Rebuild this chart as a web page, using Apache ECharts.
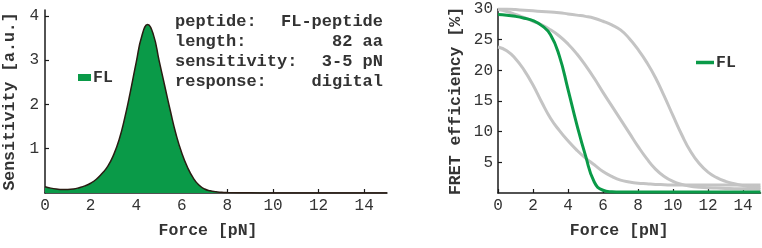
<!DOCTYPE html>
<html><head><meta charset="utf-8">
<script src="https://cdn.jsdelivr.net/npm/echarts@6/dist/echarts.min.js"></script>
<style>html,body{margin:0;padding:0;background:#fff}#c{width:762px;height:248px}</style>
</head><body><div id="c"></div><script>
// ---- Left panel: sensitivity ----
const sensX = [0,0.25,0.5,0.75,1,1.25,1.5,1.75,2,2.25,2.5,2.75,3,3.25,3.5,3.75,4,4.25,4.5,4.75,5,5.25,5.5,5.75,6,6.25,6.5,6.75,7,7.25,7.5,7.75,8,9,10,11,12,13,14,15];
const sensY = [0.14,0.11,0.09,0.08,0.08,0.09,0.12,0.16,0.22,0.31,0.44,0.6,0.85,1.2,1.7,2.3,2.95,3.55,3.8,3.58,3.0,2.42,1.85,1.32,0.9,0.58,0.34,0.18,0.09,0.05,0.03,0.015,0.01,0.005,0,0,0,0,0,0];
const sensXTicks = [0,2,4,6,8,10,12,14];
const sensYTicks = [1,2,3,4];
const infoLabels = ['peptide:', 'length:', 'sensitivity:', 'response:'];
const infoValues = ['FL-peptide', '82 aa', '3-5 pN', 'digital'];

// ---- Right panel: FRET efficiency (shared force grid) ----
const fretX = [0,0.5,1,1.5,2,2.5,3,3.5,4,4.5,5,5.5,6,6.5,7,7.5,8,8.5,9,9.5,10,10.5,11,11.5,12,12.5,13,13.5,14,14.5,15];
const flY    = [29.1,29.0,28.8,28.5,28.1,27.3,25.8,22.4,16.9,11.2,6.1,1.8,0.45,0.2,0.15,0.15,0.15,0.15,0.15,0.15,0.15,0.15,0.15,0.15,0.15,0.15,0.15,0.15,0.15,0.15,0.15];
const grayAY = [23.8,23.2,21.9,20.0,17.6,14.8,12.2,10.2,8.5,7.0,5.7,4.6,3.5,2.7,2.1,1.8,1.6,1.5,1.4,1.35,1.3,1.3,1.3,1.3,1.3,1.3,1.3,1.3,1.3,1.3,1.3];
const grayBY = [29.9,29.6,29.1,28.6,28.0,27.4,26.6,25.6,24.3,22.7,20.8,18.7,16.4,14.2,12.0,9.8,7.6,5.6,3.9,2.7,1.9,1.4,1.1,0.95,0.85,0.8,0.75,0.7,0.68,0.65,0.62];
const grayCY = [30.0,30.0,29.9,29.8,29.7,29.6,29.5,29.4,29.2,29.0,28.8,28.5,28.0,27.4,26.6,25.2,23.4,21.3,18.8,15.8,12.6,9.5,6.8,4.8,3.4,2.5,1.9,1.5,1.2,1.0,0.9];
const fretXTicks = [0,2,4,6,8,10,12,14];
const fretYTicks = [5,10,15,20,25,30];

const pairs = (xs, ys) => xs.map((x, i) => [x, ys[i]]);
const FONT = 'Liberation Mono';
const GREEN = '#0a9a48';
const GRAY = '#c4c4c4';
const AX = '#1a1a1a';
const TXT = '#333';

function xAxisCfg(gridIndex, ticks, nameGap, namePad) {
  return {
    type: 'value', gridIndex, min: 0, max: 15,
    name: 'Force [pN]', nameLocation: 'middle', nameGap,
    nameTextStyle: { fontFamily: FONT, fontWeight: 'bold', fontSize: 16.5, color: TXT, padding: namePad },
    axisLine: { show: true, onZero: false, lineStyle: { color: AX, width: 1.5 } },
    axisTick: { show: true, inside: true, length: 4, customValues: ticks, lineStyle: { color: AX, width: 1.2 } },
    axisLabel: { customValues: ticks, margin: 5, fontFamily: FONT, fontSize: 16, color: TXT },
    splitLine: { show: false }
  };
}
function yAxisCfg(gridIndex, max, ticks, name, nameGap, margin) {
  return {
    type: 'value', gridIndex, min: 0, max,
    name, nameLocation: 'middle', nameGap, nameRotate: 90,
    nameTextStyle: { fontFamily: FONT, fontWeight: 'bold', fontSize: 16.5, color: TXT },
    axisLine: { show: true, onZero: false, lineStyle: { color: AX, width: 1.5 } },
    axisTick: { show: true, inside: true, length: 4, customValues: ticks, lineStyle: { color: AX, width: 1.2 } },
    axisLabel: { customValues: ticks, margin, fontFamily: FONT, fontSize: 16, color: TXT },
    splitLine: { show: false }
  };
}

const graphics = [];
infoLabels.forEach((t, i) => {
  graphics.push({ type: 'text', left: 175, top: 13 + i * 20.2,
    style: { text: t, font: 'bold 17px "' + FONT + '"', fill: TXT } });
  graphics.push({ type: 'text', right: 762 - 383, top: 13 + i * 20.2,
    style: { text: infoValues[i], font: 'bold 17px "' + FONT + '"', fill: TXT, textAlign: 'right' } });
});

const lineBase = { type: 'line', smooth: 0.5, showSymbol: false, symbol: 'none' };

const chart = echarts.init(document.getElementById('c'), null, { renderer: 'canvas' });
chart.setOption({
  animation: false,
  backgroundColor: '#fff',
  grid: [
    { left: 43, top: 10, width: 344, height: 183 },
    { left: 498, top: 9, width: 262.5, height: 184 }
  ],
  xAxis: [ xAxisCfg(0, sensXTicks, 29, [0, 16, 0, 0]), xAxisCfg(1, fretXTicks, 29, [0, 20, 0, 0]) ],
  yAxis: [
    yAxisCfg(0, 4.13, sensYTicks, 'Sensitivity [a.u.]', 27, 6),
    yAxisCfg(1, 30, fretYTicks, 'FRET efficiency [%]', 34, 5)
  ],
  legend: [
    { left: 73, top: 64, icon: 'rect', itemWidth: 13, itemHeight: 7, itemGap: 4, data: ['FL'],
      selectedMode: false,
      itemStyle: { color: GREEN, borderWidth: 0 },
      textStyle: { fontFamily: FONT, fontWeight: 'bold', fontSize: 16.5, color: TXT, padding: [0, 0, 0, -3] } },
    { left: 691, top: 49, icon: 'rect', itemWidth: 18, itemHeight: 3.5, itemGap: 4, data: ['FL (FRET)'],
      selectedMode: false, formatter: () => 'FL',
      itemStyle: { color: GREEN, borderWidth: 0 },
      textStyle: { fontFamily: FONT, fontWeight: 'bold', fontSize: 16.5, color: TXT, padding: [0, 0, 0, -3] } }
  ],
  graphic: graphics,
  series: [
    Object.assign({}, lineBase, { name: 'FL', xAxisIndex: 0, yAxisIndex: 0, data: pairs(sensX, sensY),
      itemStyle: { color: GREEN },
      lineStyle: { color: '#2a1c12', width: 1.5 },
      areaStyle: { color: GREEN, opacity: 1 }, z: 1 }),
    Object.assign({}, lineBase, { name: 'gray A', xAxisIndex: 1, yAxisIndex: 1, data: pairs(fretX, grayAY),
      lineStyle: { color: GRAY, width: 3 }, itemStyle: { color: GRAY }, z: 1 }),
    Object.assign({}, lineBase, { name: 'gray B', xAxisIndex: 1, yAxisIndex: 1, data: pairs(fretX, grayBY),
      lineStyle: { color: GRAY, width: 3 }, itemStyle: { color: GRAY }, z: 1 }),
    Object.assign({}, lineBase, { name: 'gray C', xAxisIndex: 1, yAxisIndex: 1, data: pairs(fretX, grayCY),
      lineStyle: { color: GRAY, width: 3 }, itemStyle: { color: GRAY }, z: 1 }),
    Object.assign({}, lineBase, { name: 'FL (FRET)', xAxisIndex: 1, yAxisIndex: 1, data: pairs(fretX, flY),
      lineStyle: { color: GREEN, width: 3 }, itemStyle: { color: GREEN }, z: 3 })
  ]
});
</script></body></html>
